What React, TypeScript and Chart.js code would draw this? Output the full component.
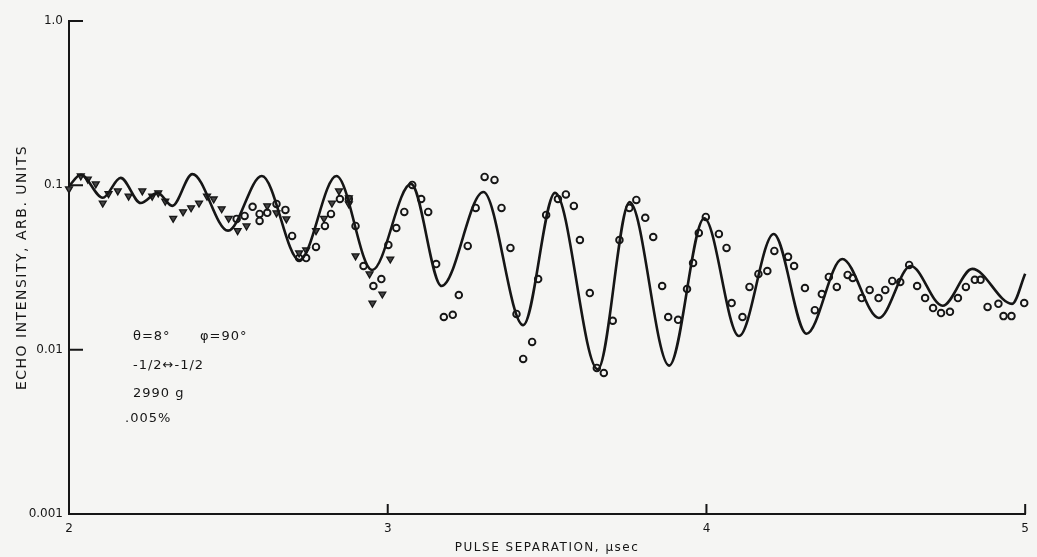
import React, { useEffect, useRef } from 'react';
import { Chart, registerables } from 'chart.js';

Chart.register(...registerables);

// ---- text ----
const xTitle = 'PULSE SEPARATION, µsec';
const yTitle = 'ECHO INTENSITY, ARB. UNITS';
const noteLine1a = 'θ=8°';
const noteLine1b = 'φ=90°';
const noteLine2 = '-1/2↔-1/2';
const noteLine3 = '2990 g';
const noteLine4 = '.005%';

// ---- ticks ----
const xTickValues = [2, 3, 4, 5];
const xTickLabels = ['2', '3', '4', '5'];
const yTickValues = [0.001, 0.01, 0.1, 1];
const yTickLabels = ['0.001', '0.01', '0.1', '1.0'];

// ---- theoretical curve (extrema) ----
const curveX = [2.0, 2.037, 2.106, 2.162, 2.225, 2.278, 2.324, 2.387, 2.499, 2.605, 2.723, 2.839, 2.951, 3.073, 3.169, 3.3, 3.425, 3.525, 3.659, 3.759, 3.883, 3.993, 4.102, 4.211, 4.314, 4.426, 4.541, 4.641, 4.741, 4.834, 4.959, 5.0];
const curveY = [0.099, 0.116, 0.084, 0.111, 0.078, 0.09, 0.075, 0.117, 0.053, 0.114, 0.035, 0.114, 0.0305, 0.102, 0.0244, 0.091, 0.0141, 0.09, 0.0076, 0.079, 0.008, 0.063, 0.0121, 0.0506, 0.0125, 0.0356, 0.0156, 0.0323, 0.0185, 0.031, 0.019, 0.029];

// ---- triangle data ----
const triX = [2.0, 2.037, 2.059, 2.084, 2.106, 2.124, 2.153, 2.187, 2.23, 2.261, 2.28, 2.302, 2.327, 2.358, 2.383, 2.408, 2.433, 2.454, 2.479, 2.501, 2.529, 2.557, 2.622, 2.651, 2.682, 2.722, 2.744, 2.775, 2.8, 2.825, 2.847, 2.878, 2.878, 2.899, 2.943, 2.952, 2.983, 3.008];
const triY = [0.0951, 0.114, 0.109, 0.102, 0.078, 0.089, 0.0925, 0.086, 0.0925, 0.086, 0.09, 0.08, 0.063, 0.069, 0.073, 0.078, 0.086, 0.0826, 0.072, 0.063, 0.053, 0.0566, 0.075, 0.068, 0.0625, 0.0388, 0.0404, 0.053, 0.063, 0.078, 0.0925, 0.084, 0.077, 0.0372, 0.0289, 0.0192, 0.0218, 0.0356];

// ---- circle data ----
const circX = [2.526, 2.551, 2.576, 2.598, 2.598, 2.622, 2.651, 2.679, 2.7, 2.722, 2.744, 2.775, 2.803, 2.822, 2.85, 2.878, 2.899, 2.924, 2.955, 2.98, 3.002, 3.027, 3.052, 3.077, 3.105, 3.127, 3.152, 3.176, 3.204, 3.223, 3.251, 3.276, 3.304, 3.335, 3.357, 3.385, 3.404, 3.425, 3.453, 3.472, 3.497, 3.534, 3.559, 3.584, 3.603, 3.634, 3.656, 3.678, 3.706, 3.727, 3.758, 3.78, 3.808, 3.833, 3.861, 3.88, 3.911, 3.939, 3.958, 3.976, 3.998, 4.039, 4.063, 4.079, 4.113, 4.135, 4.163, 4.191, 4.213, 4.256, 4.275, 4.309, 4.34, 4.362, 4.384, 4.409, 4.443, 4.459, 4.487, 4.512, 4.54, 4.561, 4.583, 4.608, 4.636, 4.661, 4.686, 4.711, 4.736, 4.764, 4.789, 4.814, 4.842, 4.86, 4.882, 4.916, 4.932, 4.957, 4.997];
const circY = [0.0625, 0.0651, 0.074, 0.067, 0.0607, 0.068, 0.0771, 0.0709, 0.0492, 0.0361, 0.0361, 0.0422, 0.0566, 0.067, 0.0826, 0.0826, 0.0566, 0.0323, 0.0244, 0.0269, 0.0434, 0.055, 0.0689, 0.1006, 0.0826, 0.0689, 0.0332, 0.0158, 0.0163, 0.0215, 0.0428, 0.0729, 0.1125, 0.1079, 0.0729, 0.0416, 0.0165, 0.00878, 0.01114, 0.0269, 0.0661, 0.0826, 0.088, 0.0749, 0.0465, 0.0221, 0.00774, 0.00721, 0.015, 0.0465, 0.0729, 0.0815, 0.0634, 0.0485, 0.0244, 0.0158, 0.0152, 0.0234, 0.0337, 0.0513, 0.0642, 0.0506, 0.0416, 0.0192, 0.0158, 0.0241, 0.0289, 0.0301, 0.0399, 0.0367, 0.0323, 0.0237, 0.0174, 0.0218, 0.0277, 0.0241, 0.0285, 0.0273, 0.0206, 0.0231, 0.0206, 0.0231, 0.0262, 0.0258, 0.0328, 0.0244, 0.0206, 0.0179, 0.0167, 0.017, 0.0206, 0.0241, 0.0266, 0.0266, 0.0182, 0.019, 0.016, 0.016, 0.0192];

const INK = '#161616';
const PAPER = '#f5f5f3';
const FONT = '"DejaVu Sans", "Liberation Sans", sans-serif';

const zip = (xs: number[], ys: number[]) => xs.map((x, i) => ({ x, y: ys[i] }));

const paperPlugin = {
  id: 'paper',
  beforeDraw(chart: any) {
    const ctx = chart.ctx;
    ctx.save();
    ctx.fillStyle = PAPER;
    ctx.fillRect(0, 0, chart.width, chart.height);
    ctx.restore();
    // axis titles (drawn in the grid layer) get wide hand-lettered spacing
    ctx.letterSpacing = '1.5px';
  },
  beforeDatasetsDraw(chart: any) {
    chart.ctx.letterSpacing = '0px';
  },
  afterDraw(chart: any) {
    const { ctx, chartArea, scales } = chart;
    ctx.save();
    ctx.letterSpacing = '0px';
    ctx.strokeStyle = INK;
    ctx.lineWidth = 2;
    ctx.beginPath();
    for (const v of yTickValues.slice(1)) {
      const py = scales.y.getPixelForValue(v);
      ctx.moveTo(chartArea.left, py);
      ctx.lineTo(chartArea.left + 14, py);
    }
    for (const v of xTickValues.slice(1)) {
      const px = scales.x.getPixelForValue(v);
      ctx.moveTo(px, chartArea.bottom);
      ctx.lineTo(px, chartArea.bottom - 10);
    }
    ctx.stroke();

    ctx.fillStyle = INK;
    ctx.font = '13px ' + FONT;
    ctx.textBaseline = 'middle';
    ctx.textAlign = 'left';
    ctx.letterSpacing = '1px';
    const x0 = chartArea.left + 64;
    const y0 = chartArea.top + 316;
    ctx.fillText(noteLine1a, x0, y0);
    ctx.fillText(noteLine1b, x0 + 67, y0);
    ctx.fillText(noteLine2, x0, y0 + 29);
    ctx.fillText(noteLine3, x0, y0 + 57);
    ctx.fillText(noteLine4, x0 - 8, y0 + 82);
    ctx.restore();
  },
};

export default function App() {
  const canvasRef = useRef<HTMLCanvasElement | null>(null);

  useEffect(() => {
    const canvas = canvasRef.current;
    if (!canvas) return;
    const chart = new Chart(canvas, {
      type: 'scatter',
      data: {
        datasets: [
          {
            label: 'theory',
            data: zip(curveX, curveY),
            showLine: true,
            cubicInterpolationMode: 'monotone',
            borderColor: INK,
            borderWidth: 2.6,
            pointRadius: 0,
            fill: false,
            clip: false,
          } as any,
          {
            label: 'triangles',
            data: zip(triX, triY),
            showLine: false,
            pointStyle: 'triangle',
            rotation: 180,
            pointRadius: 4,
            borderColor: INK,
            backgroundColor: '#444',
            borderWidth: 1.3,
            clip: false,
          } as any,
          {
            label: 'circles',
            data: zip(circX, circY),
            showLine: false,
            pointStyle: 'circle',
            pointRadius: 3.3,
            borderColor: INK,
            backgroundColor: 'rgba(0,0,0,0)',
            borderWidth: 1.9,
            clip: false,
          } as any,
        ],
      },
      options: {
        animation: false,
        responsive: false,
        devicePixelRatio: 1,
        layout: { padding: { top: 21, right: 5, left: 0, bottom: 0 } },
        plugins: {
          legend: { display: false },
          tooltip: { enabled: false },
        },
        scales: {
          x: {
            type: 'linear',
            min: 2,
            max: 5,
            afterBuildTicks: (scale: any) => {
              scale.ticks = xTickValues.map((v) => ({ value: v }));
            },
            afterFit: (scale: any) => {
              scale.height = 43;
            },
            grid: { display: false, drawTicks: false },
            border: { display: true, color: INK, width: 2 },
            ticks: {
              z: 1,
              padding: 8,
              color: INK,
              font: { family: FONT, size: 12 },
              maxRotation: 0,
              autoSkip: false,
              callback: (value: any) => xTickLabels[xTickValues.indexOf(Number(value))] ?? '',
            },
            title: {
              display: true,
              text: xTitle,
              color: INK,
              font: { family: FONT, size: 12 },
              padding: { top: 0, bottom: 2 },
            },
          },
          y: {
            type: 'logarithmic',
            min: 0.001,
            max: 1,
            afterBuildTicks: (scale: any) => {
              scale.ticks = yTickValues.map((v) => ({ value: v }));
            },
            afterFit: (scale: any) => {
              scale.width = 69;
            },
            grid: { display: false, drawTicks: false },
            border: { display: true, color: INK, width: 2 },
            ticks: {
              z: 1,
              padding: 6,
              color: INK,
              font: { family: FONT, size: 12 },
              autoSkip: false,
              callback: (value: any) => {
                const i = yTickValues.findIndex((v) => Math.abs(v - Number(value)) < v * 1e-6);
                return i >= 0 ? yTickLabels[i] : '';
              },
            },
            title: {
              display: true,
              text: yTitle,
              color: INK,
              font: { family: FONT, size: 14 },
              padding: { top: 14, bottom: 0 },
            },
          },
        },
      } as any,
      plugins: [paperPlugin],
    });
    return () => chart.destroy();
  }, []);

  return (
    <div style={{ position: 'fixed', left: 0, top: 0, width: 1037, height: 557, background: PAPER }}>
      <canvas ref={canvasRef} width={1037} height={557} style={{ display: 'block', width: 1037, height: 557 }} />
    </div>
  );
}
